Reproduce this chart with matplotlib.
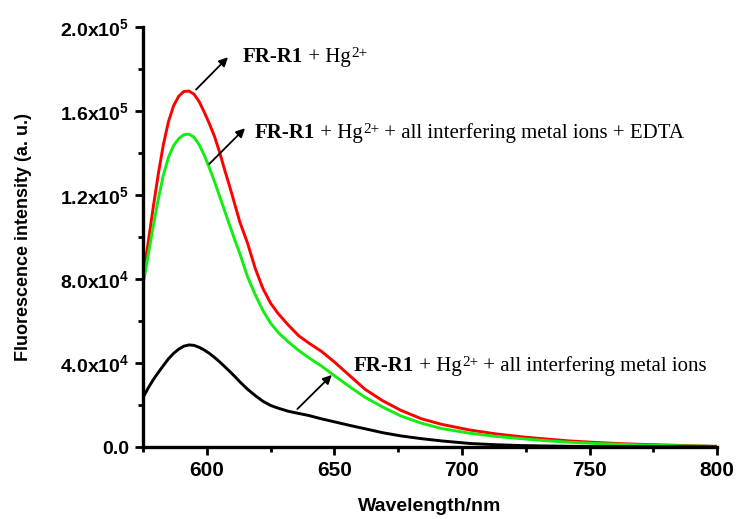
import matplotlib
matplotlib.use('Agg')
import matplotlib.pyplot as plt
from matplotlib.ticker import MultipleLocator, FuncFormatter

plt.rcParams['font.family'] = ['Liberation Sans', 'DejaVu Sans']
plt.rcParams['mathtext.fontset'] = 'custom'
plt.rcParams['mathtext.rm'] = 'Liberation Sans:bold'
plt.rcParams['mathtext.bf'] = 'Liberation Sans:bold'

# 波长 (nm)
wavelength = [575, 577, 579, 581, 583, 585, 587, 589, 591, 593, 595, 597, 599, 601, 603,
              605, 607, 609, 611, 613, 616, 619, 622, 625, 628, 632, 636, 640, 645, 650,
              656, 662, 669, 676, 684, 692, 703, 713, 723, 733, 742, 752, 762, 772, 781,
              790, 800]

# FR-R1 + Hg2+  (x1000)
hg = [80.5, 97, 114, 130, 144, 155, 162.5, 167, 169.3, 169.5, 168, 164.5, 159.5, 154, 148,
      140.5, 132, 124, 115.5, 107, 97, 85, 75.5, 68.5, 63.5, 58, 53, 49.5, 45.5, 40.5,
      34, 27.5, 22, 17.5, 13.5, 10.8, 8.1, 6.3, 4.9, 3.8, 2.9, 2.2, 1.6, 1.2, 0.9,
      0.6, 0.3]

# FR-R1 + Hg2+ + 干扰离子 + EDTA
edta = [77, 91, 105, 118, 129.5, 138, 143.5, 146.8, 148.7, 149, 147.5, 144, 139, 133, 126.5,
        119.5, 112.5, 105.5, 98.5, 92, 81, 72.5, 65, 59, 54.5, 50, 46, 42.5, 38.5, 34,
        28.7, 23.7, 19, 14.8, 11.4, 8.8, 6.6, 5.1, 4.0, 3.0, 2.3, 1.7, 1.3, 0.9, 0.7,
        0.5, 0.3]

# FR-R1 + Hg2+ + 干扰离子
ions = [23.5, 28, 32, 35.5, 38.8, 42, 44.6, 46.6, 48, 48.6, 48.4, 47.5, 46.2, 44.6, 42.7,
        40.6, 38.3, 36, 33.6, 31, 27.5, 24.5, 21.8, 19.8, 18.5, 17, 16, 15, 13.4, 12,
        10.3, 8.7, 6.8, 5.3, 4.0, 2.9, 1.7, 1.1, 0.7, 0.5, 0.35, 0.25, 0.2, 0.15, 0.1,
        0.1, 0.05]

# 注释: 箭头尾, 箭头头, 文字起点, 后半段文字
notes = [
    ((595.8, 170200), (608.3, 185600), (614.2, 185700), ''),
    ((601.0, 134800), (615.0, 151800), (618.9, 149500), ' + all interfering metal ions + EDTA'),
    ((635.5, 18100), (649.0, 34300), (657.7, 38600), ' + all interfering metal ions'),
]


def fmt_y(v, pos):
    if v == 0:
        return '0.0'
    exp = 5 if v >= 1e5 else 4
    return r'$\mathbf{%.1fx10^{%d}}$' % (v / 10 ** exp, exp)


fig = plt.figure(figsize=(7.37, 5.19), dpi=100)
ax = fig.add_axes([0.194, 0.1387, 0.779, 0.8093])

ax.plot(wavelength, [v * 1000 for v in hg], color='#ff0000', lw=2.1)
ax.plot(wavelength, [v * 1000 for v in edta], color='#11ee11', lw=2.1)
ax.plot(wavelength, [v * 1000 for v in ions], color='black', lw=2.1)

ax.set_xlim(575, 800)
ax.set_ylim(0, 2.0e5)
ax.xaxis.set_major_locator(MultipleLocator(50))
ax.xaxis.set_minor_locator(MultipleLocator(25))
ax.yaxis.set_major_locator(MultipleLocator(4e4))
ax.yaxis.set_minor_locator(MultipleLocator(2e4))
ax.yaxis.set_major_formatter(FuncFormatter(fmt_y))

for s in ['top', 'right']:
    ax.spines[s].set_visible(False)
for s in ['left', 'bottom']:
    ax.spines[s].set_linewidth(2.4)
ax.tick_params(which='major', direction='out', length=6, width=2, pad=4)
ax.tick_params(which='minor', direction='out', length=3.8, width=2)
ax.tick_params(axis='x', labelsize=15)
ax.tick_params(axis='y', labelsize=14)
for t in ax.get_xticklabels() + ax.get_yticklabels():
    t.set_fontweight('bold')

ax.set_xlabel('Wavelength/nm', fontsize=14, fontweight='bold')
ax.set_ylabel('Fluorescence intensity (a. u.)', fontsize=13, fontweight='bold')
ax.xaxis.set_label_coords(0.5, -0.122)
ax.yaxis.set_label_coords(-0.193, 0.5)

serif = ['Liberation Serif', 'DejaVu Serif']
for tail, head, txy, rest in notes:
    ax.annotate('', xy=head, xytext=tail,
                arrowprops=dict(arrowstyle='-|>', color='black', lw=1.3,
                                mutation_scale=13, shrinkA=0, shrinkB=0))
    t1 = ax.text(txy[0], txy[1], 'FR-R1', family=serif, fontweight='bold',
                 fontsize=15, va='center', ha='left')
    t2 = ax.annotate(' + Hg', xy=(1, 0), xycoords=t1, va='bottom', ha='left',
                     family=serif, fontsize=15)
    t3 = ax.annotate('2+', xy=(1, 0.52), xycoords=t2, va='baseline', ha='left',
                     family=serif, fontsize=11)
    if rest:
        ax.annotate(rest, xy=(1, 0), xycoords=(t3, t2), va='bottom', ha='left',
                    family=serif, fontsize=15)

fig.savefig('out.png', dpi=100)
